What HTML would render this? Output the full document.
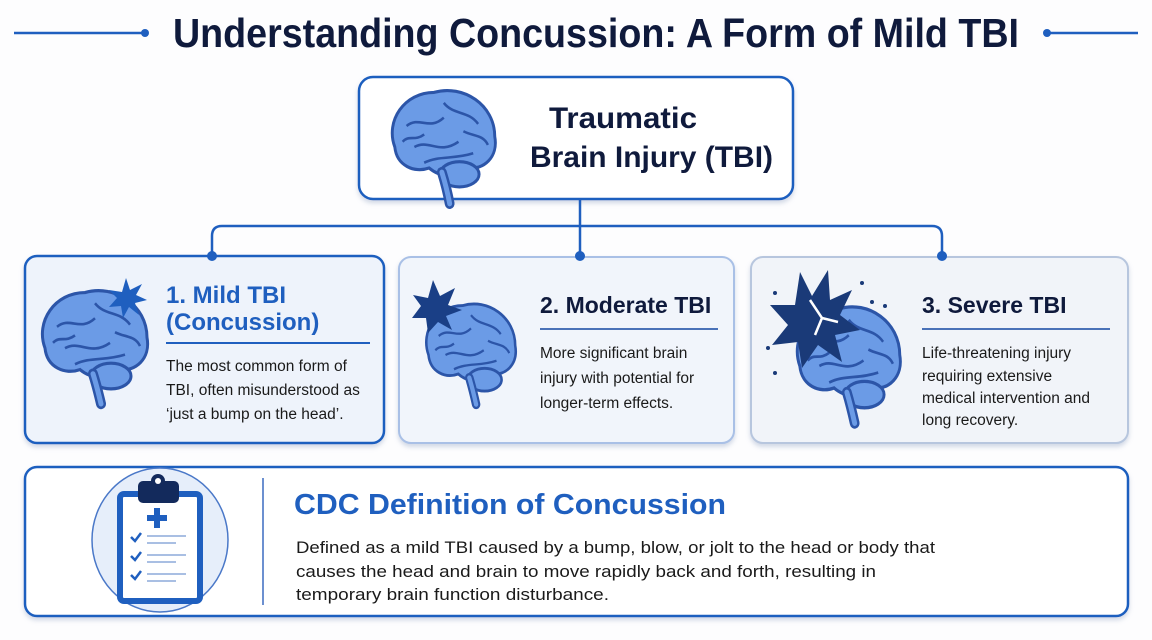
<!DOCTYPE html>
<html><head><meta charset="utf-8"><style>
html,body{margin:0;padding:0;background:#fff;}
svg{display:block;font-family:"Liberation Sans",sans-serif;}
</style></head><body>
<svg width="1152" height="640" viewBox="0 0 1152 640" xmlns="http://www.w3.org/2000/svg">
<defs>
<filter id="sh" x="-5%" y="-5%" width="110%" height="115%"><feDropShadow dx="0" dy="3" stdDeviation="2.5" flood-color="#7f93b8" flood-opacity="0.35"/></filter>
</defs>
<rect width="1152" height="640" fill="#fdfdfe"/>
<line x1="14" y1="33" x2="145" y2="33" stroke="#1f5fbf" stroke-width="2.5"/>
<circle cx="145" cy="33" r="4" fill="#1f5fbf"/>
<line x1="1047" y1="33" x2="1138" y2="33" stroke="#1f5fbf" stroke-width="2.5"/>
<circle cx="1047" cy="33" r="4" fill="#1f5fbf"/>
<text x="596" y="47" text-anchor="middle" font-size="41" font-weight="bold" fill="#0f1a3c" textLength="846" lengthAdjust="spacingAndGlyphs">Understanding Concussion: A Form of Mild TBI</text>

<rect x="359" y="77" width="434" height="122" rx="14" fill="#fff" stroke="#1f5fbf" stroke-width="2.5" filter="url(#sh)"/>
<g transform="translate(385,84) scale(0.98,1.05)">
<path d="M10,60 C0,35 20,8 50,8 C80,0 112,20 112,50 C116,70 100,82 85,80 C75,92 55,88 45,80 C30,85 12,78 10,60 Z" fill="#6b9be6" stroke="#2c55a8" stroke-width="3"/>
<ellipse cx="76" cy="86" rx="20" ry="12" fill="#6b9be6" stroke="#2c55a8" stroke-width="3"/>
<path d="M58,84 C62,96 64,104 66,114" stroke="#2c55a8" stroke-width="10" fill="none" stroke-linecap="round"/>
<path d="M58,84 C62,96 64,104 66,114" stroke="#6b9be6" stroke-width="5" fill="none" stroke-linecap="round"/>
<path d="M22,40 C35,30 45,45 60,32 M30,60 C45,52 55,68 75,55 M60,18 C70,30 85,25 95,38 M40,75 C55,68 70,72 90,66 M18,55 C25,48 30,55 40,48 M80,45 C90,50 100,48 105,58" stroke="#2c55a8" stroke-width="2.5" fill="none"/>
</g>
<text x="549" y="128" font-size="30" font-weight="bold" fill="#0f1a3c" textLength="148" lengthAdjust="spacingAndGlyphs">Traumatic</text>
<text x="530" y="167" font-size="30" font-weight="bold" fill="#0f1a3c" textLength="243" lengthAdjust="spacingAndGlyphs">Brain Injury (TBI)</text>

<path d="M580,199 V226" stroke="#1f5fbf" stroke-width="2.5" fill="none"/>
<path d="M212,256 V236 Q212,226 222,226 H932 Q942,226 942,236 V256" stroke="#1f5fbf" stroke-width="2.5" fill="none"/>
<path d="M580,226 V256" stroke="#1f5fbf" stroke-width="2.5"/>

<rect x="25" y="256" width="359" height="187" rx="12" fill="#eef3fb" stroke="#1f5fbf" stroke-width="2.5" filter="url(#sh)"/>
<rect x="399" y="257" width="335" height="186" rx="12" fill="#f1f5fb" stroke="#a9c0e6" stroke-width="2" filter="url(#sh)"/>
<rect x="751" y="257" width="377" height="186" rx="12" fill="#f1f4f9" stroke="#b7c6de" stroke-width="2" filter="url(#sh)"/>
<circle cx="212" cy="256" r="5" fill="#1f5fbf"/>
<circle cx="580" cy="256" r="5" fill="#1f5fbf"/>
<circle cx="942" cy="256" r="5" fill="#1f5fbf"/>

<g transform="translate(35,284) scale(1,1.07)">
<path d="M10,60 C0,35 20,8 50,8 C80,0 112,20 112,50 C116,70 100,82 85,80 C75,92 55,88 45,80 C30,85 12,78 10,60 Z" fill="#6b9be6" stroke="#2c55a8" stroke-width="3"/>
<ellipse cx="76" cy="86" rx="20" ry="12" fill="#6b9be6" stroke="#2c55a8" stroke-width="3"/>
<path d="M58,84 C62,96 64,104 66,112" stroke="#2c55a8" stroke-width="10" fill="none" stroke-linecap="round"/>
<path d="M58,84 C62,96 64,104 66,112" stroke="#6b9be6" stroke-width="5" fill="none" stroke-linecap="round"/>
<path d="M22,40 C35,30 45,45 60,32 M30,60 C45,52 55,68 75,55 M60,18 C70,30 85,25 95,38 M40,75 C55,68 70,72 90,66 M18,55 C25,48 30,55 40,48 M80,45 C90,50 100,48 105,58" stroke="#2c55a8" stroke-width="2.5" fill="none"/>
</g>
<polygon points="126,278 130,290 142,284 136,295 147,300 135,303 139,315 129,307 123,318 121,306 109,307 117,298 109,290 122,292" fill="#1f5fbf"/>
<text x="166" y="303" font-size="24" font-weight="bold" fill="#1f5fbf">1. Mild TBI</text>
<text x="166" y="330" font-size="24" font-weight="bold" fill="#1f5fbf">(Concussion)</text>
<line x1="166" y1="343" x2="370" y2="343" stroke="#1f5fbf" stroke-width="2"/>
<text font-size="15.5" fill="#1a1a1a"><tspan x="166" y="371">The most common form of</tspan><tspan x="166" y="395">TBI, often misunderstood as</tspan><tspan x="166" y="419">‘just a bump on the head’.</tspan></text>

<g transform="translate(420,298) scale(0.85,0.95)">
<path d="M10,60 C0,35 20,8 50,8 C80,0 112,20 112,50 C116,70 100,82 85,80 C75,92 55,88 45,80 C30,85 12,78 10,60 Z" fill="#6b9be6" stroke="#2c55a8" stroke-width="3"/>
<ellipse cx="76" cy="86" rx="20" ry="12" fill="#6b9be6" stroke="#2c55a8" stroke-width="3"/>
<path d="M58,84 C62,96 64,104 66,112" stroke="#2c55a8" stroke-width="10" fill="none" stroke-linecap="round"/>
<path d="M58,84 C62,96 64,104 66,112" stroke="#6b9be6" stroke-width="5" fill="none" stroke-linecap="round"/>
<path d="M22,40 C35,30 45,45 60,32 M30,60 C45,52 55,68 75,55 M60,18 C70,30 85,25 95,38 M40,75 C55,68 70,72 90,66 M18,55 C25,48 30,55 40,48 M80,45 C90,50 100,48 105,58" stroke="#2c55a8" stroke-width="2.5" fill="none"/>
</g>
<polygon points="433,280 440,296 455,288 448,305 462,310 446,316 452,330 438,322 428,333 426,318 412,318 421,306 413,295 428,298" fill="#1a3f86"/>
<text x="540" y="313" font-size="23" font-weight="bold" fill="#0f1a3c">2. Moderate TBI</text>
<line x1="540" y1="329" x2="718" y2="329" stroke="#4a72b8" stroke-width="2"/>
<text font-size="15.5" fill="#1a1a1a"><tspan x="540" y="358">More significant brain</tspan><tspan x="540" y="383">injury with potential for</tspan><tspan x="540" y="408">longer-term effects.</tspan></text>

<g transform="translate(790,300) scale(0.98,1.1)">
<path d="M10,60 C0,35 20,8 50,8 C80,0 112,20 112,50 C116,70 100,82 85,80 C75,92 55,88 45,80 C30,85 12,78 10,60 Z" fill="#6b9be6" stroke="#2c55a8" stroke-width="3"/>
<ellipse cx="76" cy="86" rx="20" ry="12" fill="#6b9be6" stroke="#2c55a8" stroke-width="3"/>
<path d="M58,84 C62,96 64,104 66,112" stroke="#2c55a8" stroke-width="10" fill="none" stroke-linecap="round"/>
<path d="M58,84 C62,96 64,104 66,112" stroke="#6b9be6" stroke-width="5" fill="none" stroke-linecap="round"/>
<path d="M22,40 C35,30 45,45 60,32 M30,60 C45,52 55,68 75,55 M60,18 C70,30 85,25 95,38 M40,75 C55,68 70,72 90,66 M18,55 C25,48 30,55 40,48 M80,45 C90,50 100,48 105,58" stroke="#2c55a8" stroke-width="2.5" fill="none"/>
</g>
<polygon points="800,272 812,296 828,270 830,300 852,290 840,315 860,330 835,335 842,362 818,345 802,368 798,342 772,345 788,325 770,305 795,305" fill="#1a3a78"/>
<path d="M810,300 L822,318 L815,335 M822,318 L838,322" stroke="#fff" stroke-width="2.5" fill="none"/>
<circle cx="775" cy="293" r="2" fill="#1a3a78"/><circle cx="862" cy="283" r="2" fill="#1a3a78"/><circle cx="872" cy="302" r="2" fill="#1a3a78"/><circle cx="768" cy="348" r="2" fill="#1a3a78"/><circle cx="775" cy="373" r="2" fill="#1a3a78"/><circle cx="885" cy="306" r="2" fill="#1a3a78"/>
<text x="922" y="313" font-size="23" font-weight="bold" fill="#0f1a3c">3. Severe TBI</text>
<line x1="922" y1="329" x2="1110" y2="329" stroke="#4a72b8" stroke-width="2"/>
<text font-size="15.5" fill="#1a1a1a"><tspan x="922" y="358">Life-threatening injury</tspan><tspan x="922" y="381">requiring extensive</tspan><tspan x="922" y="403">medical intervention and</tspan><tspan x="922" y="425">long recovery.</tspan></text>

<rect x="25" y="467" width="1103" height="149" rx="12" fill="#fff" stroke="#1f5fbf" stroke-width="2.5" filter="url(#sh)"/>
<ellipse cx="160" cy="540" rx="68" ry="72" fill="#e6eefa" stroke="#4a78c8" stroke-width="1.5"/>
<rect x="120" y="494" width="80" height="107" rx="4" fill="#fff" stroke="#1f5fbf" stroke-width="6"/>
<rect x="138" y="481" width="41" height="22" rx="5" fill="#132a5c"/>
<circle cx="158" cy="481" r="7" fill="#132a5c"/><circle cx="158" cy="481" r="3" fill="#fff"/>
<path d="M157,508 V528 M147,518 H167" stroke="#1f5fbf" stroke-width="6"/>
<g stroke="#1f5fbf" stroke-width="2.5" fill="none"><path d="M131,537 l4,4 l6,-8"/><path d="M131,556 l4,4 l6,-8"/><path d="M131,575 l4,4 l6,-8"/></g>
<g stroke="#a9bfe3" stroke-width="2"><path d="M147,536 H186 M147,543 H176 M147,555 H186 M147,562 H176 M147,574 H186 M147,581 H176"/></g>
<line x1="263" y1="478" x2="263" y2="605" stroke="#3a6bc0" stroke-width="1.5"/>
<text x="294" y="514" font-size="29" font-weight="bold" fill="#1f5fbf" textLength="432" lengthAdjust="spacingAndGlyphs">CDC Definition of Concussion</text>
<text font-size="17" fill="#1a1a1a">
<tspan x="296" y="553" textLength="639" lengthAdjust="spacingAndGlyphs">Defined as a mild TBI caused by a bump, blow, or jolt to the head or body that</tspan>
</text>
<text x="296" y="577" font-size="17" fill="#1a1a1a" textLength="580" lengthAdjust="spacingAndGlyphs">causes the head and brain to move rapidly back and forth, resulting in</text>
<text x="296" y="600" font-size="17" fill="#1a1a1a" textLength="313" lengthAdjust="spacingAndGlyphs">temporary brain function disturbance.</text>
</svg>
</body></html>
